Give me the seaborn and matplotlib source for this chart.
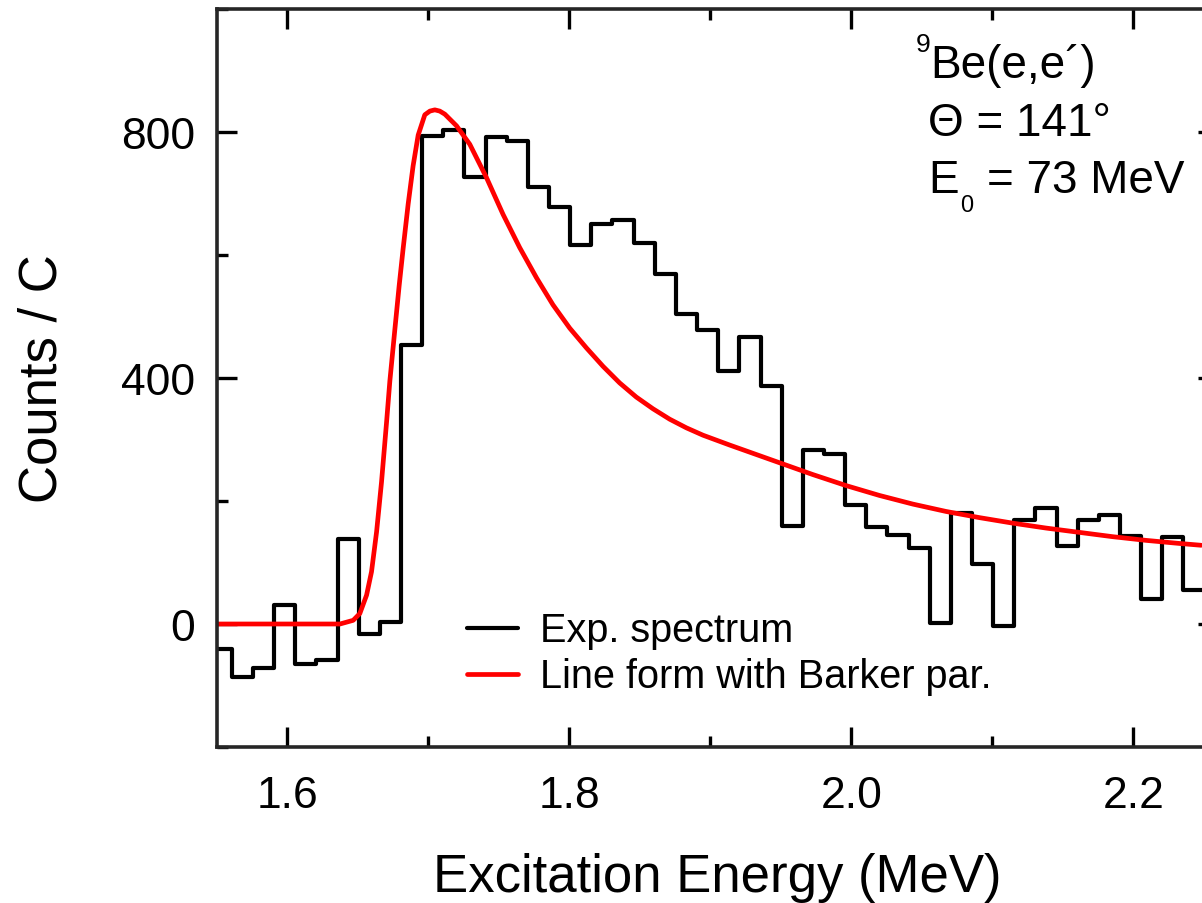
import numpy as np
import pandas as pd
import matplotlib
matplotlib.use("Agg")
import matplotlib.pyplot as plt
from matplotlib.ticker import MultipleLocator, FormatStrFormatter
import seaborn as sns


# histogram of the measured spectrum (bin centres in MeV, counts per C)
BIN_WIDTH = 0.015
BIN_CENTERS = [
    1.553, 1.568, 1.583, 1.598, 1.613, 1.628, 1.643, 1.658, 1.673, 1.688,
    1.703, 1.718, 1.733, 1.748, 1.763, 1.778, 1.793, 1.808, 1.823, 1.838,
    1.853, 1.868, 1.883, 1.898, 1.913, 1.928, 1.943, 1.958, 1.973, 1.988,
    2.003, 2.018, 2.033, 2.048, 2.063, 2.078, 2.093, 2.108, 2.123, 2.138,
    2.153, 2.168, 2.183, 2.198, 2.213, 2.228, 2.243, 2.258,
]
COUNTS = [
    -40, -86, -71, 31, -65, -58, 139, -16, 3, 454,
    794, 804, 727, 792, 785, 711, 678, 616, 651, 657,
    620, 569, 504, 478, 412, 466, 387, 160, 283, 276,
    193, 157, 144, 123, 2, 180, 98, -3, 169, 188,
    127, 169, 177, 143, 41, 142, 55, 77,
]

# line form with Barker parameters
LINE_E = [
    1.5500, 1.6000, 1.6372, 1.6466, 1.6513, 1.6561, 1.6596, 1.6632, 1.6667, 1.6703,
    1.6726, 1.6762, 1.6792, 1.6820, 1.6856, 1.6891, 1.6927, 1.6974, 1.7010, 1.7045,
    1.7080, 1.7116, 1.7199, 1.7293, 1.7411, 1.7529, 1.7647, 1.7766, 1.7883, 1.8002,
    1.8120, 1.8238, 1.8356, 1.8474, 1.8592, 1.8711, 1.8829, 1.8947, 1.9136, 1.9443,
    1.9726, 1.9963, 2.0199, 2.0435, 2.0671, 2.0907, 2.1144, 2.1380, 2.1616, 2.1852,
    2.2089, 2.2325, 2.2481,
]
LINE_COUNTS = [
    0, 0, 0, 6, 17, 47, 85, 150, 231, 329,
    395, 480, 550, 610, 683, 745, 795, 828, 834, 836,
    834, 829, 810, 780, 726, 666, 612, 563, 519, 481,
    449, 419, 392, 369, 350, 333, 319, 307, 291, 266,
    243, 225, 209, 195, 183, 173, 164, 156, 149, 142,
    136, 131, 128,
]

LEGEND_LABELS = ["Exp. spectrum", "Line form with Barker par."]
X_TICKS = [1.6, 1.8, 2.0, 2.2]
Y_TICKS = [0, 400, 800]

W, H = 1202, 904

sns.set_theme(style="ticks")
plt.rcParams["font.family"] = ["Liberation Sans", "DejaVu Sans"]
plt.rcParams["axes.linewidth"] = 2.6
plt.rcParams["text.color"] = "black"
plt.rcParams["axes.labelcolor"] = "black"
plt.rcParams["xtick.color"] = "black"
plt.rcParams["ytick.color"] = "black"


def px(x, y):
    # pixel position in the picture -> figure fraction
    return x / W, 1 - y / H


# step outline: left edge of every bin plus the right edge of the last one
centers = np.array(BIN_CENTERS)
steps = pd.DataFrame({
    "edge": np.append(centers - BIN_WIDTH / 2, centers[-1] + BIN_WIDTH / 2),
    "counts": COUNTS + COUNTS[-1:],
})

fig = plt.figure(figsize=(W / 100, H / 100), dpi=100)
ax = fig.add_axes([217 / W, 1 - 748 / H, (1218 - 217) / W, (748 - 10) / H])

sns.lineplot(data=steps, x="edge", y="counts", drawstyle="steps-post",
             color="black", linewidth=3.0, estimator=None, ax=ax)
sns.lineplot(x=LINE_E, y=LINE_COUNTS, color="red", linewidth=3.4,
             estimator=None, ax=ax)

ax.set_xlim(1.55, 2.26)
ax.set_ylim(-200, 1000)
ax.set_xticks(X_TICKS)
ax.set_yticks(Y_TICKS)
ax.xaxis.set_minor_locator(MultipleLocator(0.1))
ax.yaxis.set_minor_locator(MultipleLocator(200))
ax.xaxis.set_major_formatter(FormatStrFormatter("%.1f"))
ax.tick_params(which="both", direction="in", top=True, right=True,
               width=2.4, labelsize=32)
ax.tick_params(which="major", length=14.5)
ax.tick_params(which="minor", length=8)
ax.tick_params(axis="x", which="major", pad=20)
ax.tick_params(axis="y", which="major", pad=16)

ax.set_xlabel("Excitation Energy (MeV)", fontsize=38, labelpad=26)
ax.set_ylabel("Counts / C", fontsize=38, labelpad=38)

ax.legend(handles=[ax.lines[0], ax.lines[1]], labels=LEGEND_LABELS,
          loc="upper left", bbox_to_anchor=((466.7 - 217) / 1001, (748 - 612.5) / 738),
          frameon=False, fontsize=28.5, borderpad=0, borderaxespad=0,
          handlelength=1.3, handletextpad=0.55, labelspacing=0.2)

fig.text(*px(916, 51.7), "9", fontsize=19, va="baseline")
fig.text(*px(930, 78.3), "Be(e,e\u00b4)", fontsize=33, va="baseline")
fig.text(*px(928, 136), "\u0398 = 141\u00b0", fontsize=33, va="baseline")
fig.text(*px(928.5, 192.7), "E", fontsize=33, va="baseline")
fig.text(*px(960, 211.7), "0", fontsize=17, va="baseline")
fig.text(*px(987, 192.7), "= 73 MeV", fontsize=33, va="baseline")

fig.savefig("out.png", dpi=100)
